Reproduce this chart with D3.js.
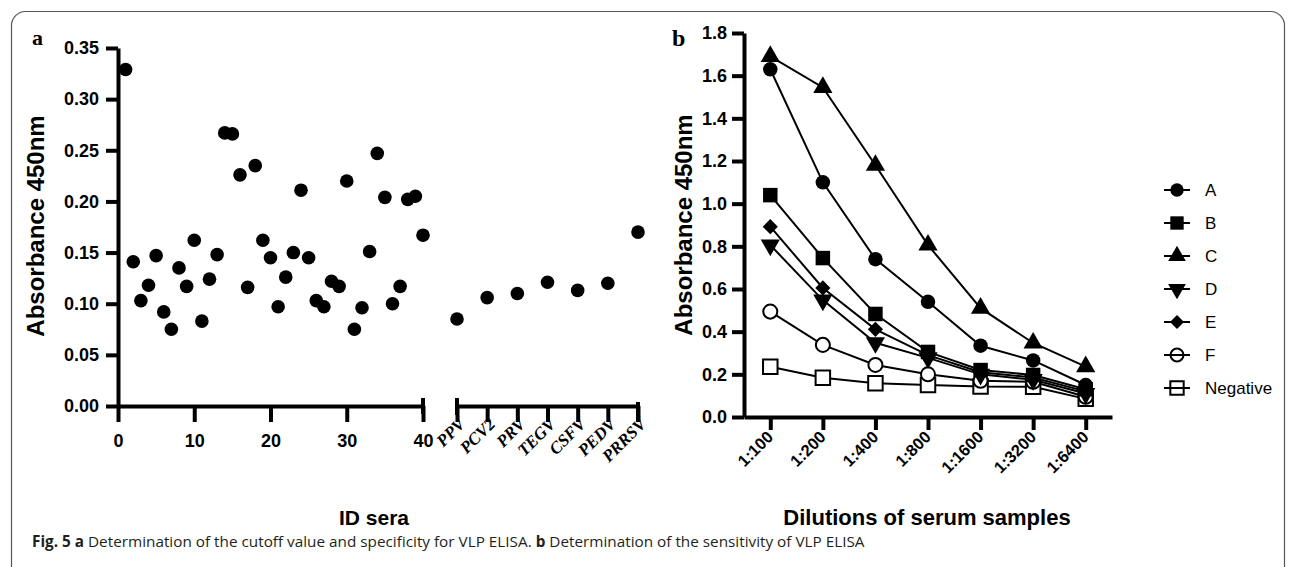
<!DOCTYPE html>
<html>
<head>
<meta charset="utf-8">
<script src="https://cdn.jsdelivr.net/npm/d3@7"></script>
<style>
  body { margin: 0; background: #fff; }
  svg { display: block; }
  .ax path, .ax line { stroke: #000; stroke-width: 4; }
  .ax text { font-family: "Liberation Sans", Arial, sans-serif; font-weight: bold; font-size: 18px; fill: #000; }
</style>
</head>
<body>
<script>
// ---- panel a data: absorbance of the 40 sera + cross-reacting viruses
var seraIds = d3.range(1, 41);
var seraValues = [0.329, 0.141, 0.103, 0.118, 0.147, 0.092, 0.075, 0.135, 0.117, 0.162,
                  0.083, 0.124, 0.148, 0.267, 0.266, 0.226, 0.116, 0.235, 0.162, 0.145,
                  0.097, 0.126, 0.150, 0.211, 0.145, 0.103, 0.097, 0.122, 0.117, 0.220,
                  0.075, 0.096, 0.151, 0.247, 0.204, 0.100, 0.117, 0.202, 0.205, 0.167];
var virusNames = ["PPV", "PCV2", "PRV", "TEGV", "CSFV", "PEDV", "PRRSV"];
var virusValues = [0.085, 0.106, 0.110, 0.121, 0.113, 0.120, 0.170];
var yTicksA = [0, 0.05, 0.10, 0.15, 0.20, 0.25, 0.30, 0.35];
var xTicksA = [0, 10, 20, 30, 40];

// ---- panel b data: dilution curves
var dilutions = ["1:100", "1:200", "1:400", "1:800", "1:1600", "1:3200", "1:6400"];
var seriesNames = ["A", "B", "C", "D", "E", "F", "Negative"];
var serA = [1.63, 1.10, 0.74, 0.54, 0.334, 0.265, 0.15];
var serB = [1.04, 0.745, 0.483, 0.305, 0.22, 0.197, 0.13];
var serC = [1.69, 1.545, 1.18, 0.806, 0.51, 0.347, 0.236];
var serD = [0.806, 0.548, 0.348, 0.277, 0.20, 0.175, 0.11];
var serE = [0.892, 0.605, 0.411, 0.29, 0.21, 0.185, 0.12];
var serF = [0.494, 0.338, 0.244, 0.20, 0.17, 0.165, 0.095];
var serNeg = [0.236, 0.184, 0.158, 0.15, 0.143, 0.142, 0.085];
var yTicksB = [0, 0.2, 0.4, 0.6, 0.8, 1.0, 1.2, 1.4, 1.6, 1.8];

var W = 1295, H = 567;
var svg = d3.select("body").append("svg").attr("width", W).attr("height", H);

// figure frame (rounded box, bottom runs off the picture)
svg.append("rect")
  .attr("x", 11.5).attr("y", 11.5)
  .attr("width", 1273).attr("height", 580)
  .attr("rx", 14)
  .attr("fill", "none").attr("stroke", "#555").attr("stroke-width", 1.2);

// ================= panel a =================
var yA = d3.scaleLinear().domain([0, 0.35]).range([406, 48]);
var xA = d3.scaleLinear().domain([0, 40]).range([118, 423]);
var xV = d3.scalePoint().domain(virusNames).range([457, 638]);

var gA = svg.append("g");

var yAxA = gA.append("g").attr("class", "ax")
  .attr("transform", "translate(118,0)")
  .call(d3.axisLeft(yA).tickValues(yTicksA).tickFormat(d3.format(".2f")).tickSize(12).tickSizeOuter(0).tickPadding(7));
yAxA.selectAll(".tick text").attr("font-size", 19.5);

var xAxA = gA.append("g").attr("class", "ax")
  .attr("transform", "translate(0,406)")
  .call(d3.axisBottom(xA).tickValues(xTicksA).tickSize(16).tickSizeOuter(0).tickPadding(12));
xAxA.selectAll(".tick text").attr("font-size", 19.5);
// end cap at 40
xAxA.append("line").attr("x1", xA(40)).attr("x2", xA(40)).attr("y1", -8).attr("y2", 8);

var xAxV = gA.append("g").attr("class", "ax")
  .attr("transform", "translate(0,406)")
  .call(d3.axisBottom(xV).tickSize(16).tickSizeOuter(0).tickFormat(""));
xAxV.append("line").attr("x1", xV("PPV")).attr("x2", xV("PPV")).attr("y1", -8).attr("y2", 9);
xAxV.append("line").attr("x1", xV("PRRSV")).attr("x2", xV("PRRSV")).attr("y1", -4).attr("y2", 16);

gA.selectAll("text.vlab").data(virusNames).enter().append("text")
  .attr("class", "vlab")
  .attr("transform", function(d) { return "translate(" + (xV(d) + 9) + ",425) rotate(-45)"; })
  .attr("text-anchor", "end")
  .attr("font-family", "Liberation Serif, Times New Roman, serif")
  .attr("font-style", "italic").attr("font-weight", "bold")
  .attr("font-size", 17)
  .text(function(d) { return d; });

gA.selectAll("circle.sera").data(seraValues).enter().append("circle")
  .attr("class", "sera")
  .attr("cx", function(d, i) { return xA(seraIds[i]); })
  .attr("cy", function(d) { return yA(d); })
  .attr("r", 6.8).attr("fill", "#000");

gA.selectAll("circle.virus").data(virusValues).enter().append("circle")
  .attr("class", "virus")
  .attr("cx", function(d, i) { return xV(virusNames[i]); })
  .attr("cy", function(d) { return yA(d); })
  .attr("r", 6.8).attr("fill", "#000");

gA.append("text")
  .attr("transform", "translate(44,226) rotate(-90)")
  .attr("text-anchor", "middle")
  .attr("font-family", "Liberation Sans, Arial, sans-serif")
  .attr("font-weight", "bold").attr("font-size", 24)
  .text("Absorbance 450nm");

gA.append("text")
  .attr("x", 374).attr("y", 525)
  .attr("text-anchor", "middle")
  .attr("font-family", "Liberation Sans, Arial, sans-serif")
  .attr("font-weight", "bold").attr("font-size", 21)
  .text("ID sera");

gA.append("text")
  .attr("x", 32).attr("y", 45)
  .attr("font-family", "Liberation Serif, Times New Roman, serif")
  .attr("font-weight", "bold").attr("font-size", 22)
  .text("a");

// ================= panel b =================
var yB = d3.scaleLinear().domain([0, 1.8]).range([417, 33]);
var xB = d3.scalePoint().domain(dilutions).range([744, 1112]).padding(0.5);

var gB = svg.append("g");

gB.append("g").attr("class", "ax")
  .attr("transform", "translate(744,0)")
  .call(d3.axisLeft(yB).tickValues(yTicksB).tickFormat(d3.format(".1f")).tickSize(12).tickSizeOuter(0).tickPadding(5));

var xAxB = gB.append("g").attr("class", "ax")
  .attr("transform", "translate(0,417)")
  .call(d3.axisBottom(xB).tickSize(13).tickSizeOuter(0).tickFormat(""));

gB.selectAll("text.dlab").data(dilutions).enter().append("text")
  .attr("class", "dlab")
  .attr("transform", function(d) { return "translate(" + (xB(d) + 4) + ",438) rotate(-45)"; })
  .attr("text-anchor", "end")
  .attr("font-family", "Liberation Sans, Arial, sans-serif")
  .attr("font-weight", "bold").attr("font-size", 16.5)
  .text(function(d) { return d; });

var seriesVals = [serA, serB, serC, serD, serE, serF, serNeg];
var shapes = [
  { type: d3.symbolCircle, size: 165, rot: 0, fill: "#000" },
  { type: d3.symbolSquare, size: 210, rot: 0, fill: "#000" },
  { type: d3.symbolTriangle, size: 160, rot: 0, fill: "#000" },
  { type: d3.symbolTriangle, size: 160, rot: 180, fill: "#000" },
  { type: d3.symbolSquare, size: 115, rot: 45, fill: "#000" },
  { type: d3.symbolCircle, size: 155, rot: 0, fill: "#fff" },
  { type: d3.symbolSquare, size: 210, rot: 0, fill: "#fff" }
];

var line = d3.line()
  .x(function(d, i) { return xB(dilutions[i]); })
  .y(function(d) { return yB(d); });

// draw negative first so filled markers sit on top
var order = [6, 5, 3, 4, 1, 0, 2];
order.forEach(function(s) {
  gB.append("path").datum(seriesVals[s])
    .attr("d", line)
    .attr("fill", "none").attr("stroke", "#000").attr("stroke-width", 2);
});
order.forEach(function(s) {
  var sh = shapes[s];
  gB.selectAll("path.m" + s).data(seriesVals[s]).enter().append("path")
    .attr("class", "m" + s)
    .attr("d", d3.symbol().type(sh.type).size(sh.size))
    .attr("transform", function(d, i) {
      return "translate(" + xB(dilutions[i]) + "," + yB(d) + ") rotate(" + sh.rot + ")";
    })
    .attr("fill", sh.fill).attr("stroke", "#000").attr("stroke-width", sh.fill === "#fff" ? 2 : 0);
});

gB.append("text")
  .attr("transform", "translate(692,225) rotate(-90)")
  .attr("text-anchor", "middle")
  .attr("font-family", "Liberation Sans, Arial, sans-serif")
  .attr("font-weight", "bold").attr("font-size", 24)
  .text("Absorbance 450nm");

gB.append("text")
  .attr("x", 927).attr("y", 525)
  .attr("text-anchor", "middle")
  .attr("font-family", "Liberation Sans, Arial, sans-serif")
  .attr("font-weight", "bold").attr("font-size", 22)
  .text("Dilutions of serum samples");

gB.append("text")
  .attr("x", 672).attr("y", 46)
  .attr("font-family", "Liberation Serif, Times New Roman, serif")
  .attr("font-weight", "bold").attr("font-size", 24)
  .text("b");

// legend
var leg = gB.selectAll("g.leg").data(seriesNames).enter().append("g")
  .attr("class", "leg")
  .attr("transform", function(d, i) { return "translate(1177," + (190 + i * 33) + ")"; });
leg.append("line").attr("x1", -13).attr("x2", 13).attr("stroke", "#000").attr("stroke-width", 2);
leg.append("path")
  .attr("d", function(d, i) { return d3.symbol().type(shapes[i].type).size(shapes[i].size * 0.85)(); })
  .attr("transform", function(d, i) { return "rotate(" + shapes[i].rot + ")"; })
  .attr("fill", function(d, i) { return shapes[i].fill === "#fff" ? "none" : "#000"; })
  .attr("stroke", "#000").attr("stroke-width", function(d, i) { return shapes[i].fill === "#fff" ? 2 : 0; });
leg.append("text")
  .attr("x", 28).attr("dy", "0.35em")
  .attr("font-family", "Liberation Sans, Arial, sans-serif")
  .attr("font-size", 17)
  .text(function(d) { return d; });

// caption
var cap = svg.append("text")
  .attr("x", 32).attr("y", 547)
  .attr("font-family", "Open Sans, Noto Sans, sans-serif")
  .attr("font-size", 15.3).attr("fill", "#231f20");
cap.append("tspan").attr("font-weight", "bold").text("Fig. 5  a");
cap.append("tspan").text(" Determination of the cutoff value and specificity for VLP ELISA. ");
cap.append("tspan").attr("font-weight", "bold").text("b");
cap.append("tspan").text(" Determination of the sensitivity of VLP ELISA");
</script>
</body>
</html>
